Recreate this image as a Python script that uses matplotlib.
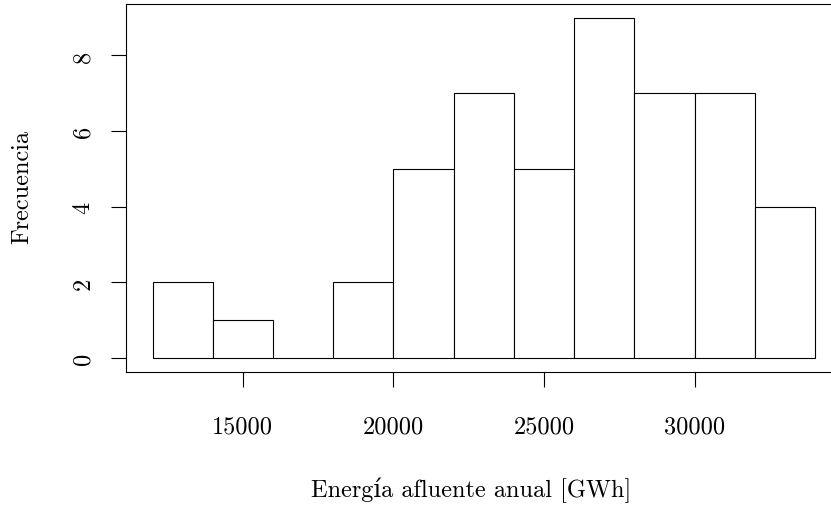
import matplotlib
matplotlib.use("Agg")
import matplotlib.pyplot as plt
import numpy as np

bin_edges = [12000, 14000, 16000, 18000, 20000, 22000, 24000, 26000, 28000, 30000, 32000, 34000]
counts = [2, 1, 0, 2, 5, 7, 5, 9, 7, 7, 4]
x_ticks = [15000, 20000, 25000, 30000]
y_ticks = [0, 2, 4, 6, 8]
x_label = "Energía afluente anual [GWh]"
y_label = "Frecuencia"

plt.rcParams['font.family'] = ['cmr10', 'DejaVu Serif']
plt.rcParams['axes.unicode_minus'] = False
plt.rcParams['axes.formatter.use_mathtext'] = False

W, H = 831, 510
fig = plt.figure(figsize=(W / 100, H / 100), dpi=100)
left, right, top, bottom = 126, 841.5, 5, 372.7
ax = fig.add_axes([left / W, 1 - bottom / H, (right - left) / W, (bottom - top) / H])

lefts = np.array(bin_edges[:-1])
widths = np.diff(bin_edges)
ax.bar(lefts, counts, width=widths, align='edge', facecolor='white',
       edgecolor='black', linewidth=0.8)

xr = bin_edges[-1] - bin_edges[0]
ax.set_xlim(bin_edges[0] - 0.04 * xr, bin_edges[-1] + 0.04 * xr)
yr = max(counts)
ax.set_ylim(-0.04 * yr, yr + 0.04 * yr)

ax.set_xticks(x_ticks)
ax.set_xticklabels([str(v) for v in x_ticks])
ax.set_yticks(y_ticks)
ax.set_yticklabels([str(v) for v in y_ticks], rotation=90, va='center')

for s in ax.spines.values():
    s.set_linewidth(0.8)

fs = 17.5
ax.tick_params(axis='both', length=10.8, width=0.8, labelsize=fs, direction='out')
ax.tick_params(axis='x', pad=21)
ax.tick_params(axis='y', pad=12)

ax.set_xlabel(x_label, fontsize=fs)
ax.set_ylabel(y_label, fontsize=fs)
ax.xaxis.set_label_coords(0.5 - ((right - left) / 2 + left - 471) / (right - left), -(490 - bottom) / (bottom - top))
ax.xaxis.label.set_va('center')
ax.yaxis.set_label_coords(-(left - 22) / (right - left), (bottom - 187) / (bottom - top))
ax.yaxis.label.set_va('center')

fig.savefig("out.png", dpi=100)
